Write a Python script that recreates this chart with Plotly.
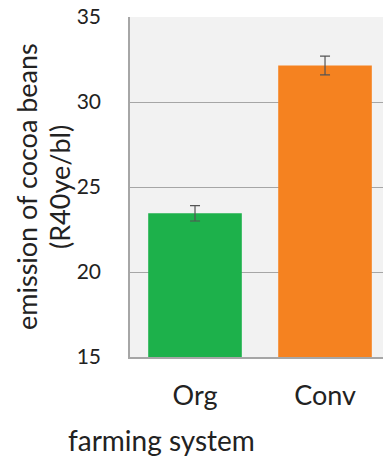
import plotly.graph_objects as go

systems = ["Org", "Conv"]
emission = [23.45, 32.15]
err = [0.45, 0.55]
bar_colors = ["#1db14b", "#f58220"]

y_ticks = [15, 20, 25, 30, 35]

font_name = "Lato"

fig_w, fig_h = 383, 457
m_l, m_t, m_b = 130, 17, 100
plot_w = fig_w - m_l
plot_h = fig_h - m_t - m_b

fig = go.Figure()
fig.add_trace(go.Bar(
    x=systems,
    y=emission,
    marker=dict(color=bar_colors, line=dict(width=0)),
    width=0.72,
    error_y=dict(type="data", array=err, visible=True,
                 color="#555555", thickness=1.2, width=5),
))

fig.update_layout(
    width=fig_w, height=fig_h,
    margin=dict(l=m_l, r=0, t=m_t, b=m_b, autoexpand=False),
    paper_bgcolor="white",
    plot_bgcolor="#f2f2f2",
    showlegend=False,
    font=dict(family=font_name, color="#222222"),
    xaxis=dict(
        range=[-0.5, 1.446],
        showgrid=False,
        showline=True, linecolor="#a6a6a6", linewidth=1.5,
        ticks="", ticklabelstandoff=14, tickfont=dict(size=27),
        automargin=False,
    ),
    yaxis=dict(
        range=[15, 35],
        tickvals=y_ticks,
        showgrid=True, gridcolor="#a6a6a6", gridwidth=1.2,
        showline=True, linecolor="#a6a6a6", linewidth=1.5,
        zeroline=False,
        ticks="", ticklabelstandoff=23,
        tickfont=dict(size=21),
        automargin=False,
    ),
)

# y title, one annotation per line
for txt, xc in [("emission of cocoa beans", 26), ("(R40ye/bl)", 59)]:
    fig.add_annotation(
        text=txt,
        xref="paper", yref="paper", x=(xc - m_l) / plot_w, y=0.5,
        xanchor="center", yanchor="middle",
        textangle=-90, showarrow=False,
        font=dict(size=27, family=font_name, color="#222222"),
    )
fig.add_annotation(
    text="farming system",
    xref="paper", yref="paper", x=(161 - m_l) / plot_w,
    y=-(440 - (m_t + plot_h)) / plot_h,
    xanchor="center", yanchor="middle", showarrow=False,
    font=dict(size=28, family=font_name, color="#222222"),
)

# drop the default page margin so the figure sits at the window corner
fig.write_html("out.html", config={"displayModeBar": False},
               post_script="document.body.style.margin='0';")
